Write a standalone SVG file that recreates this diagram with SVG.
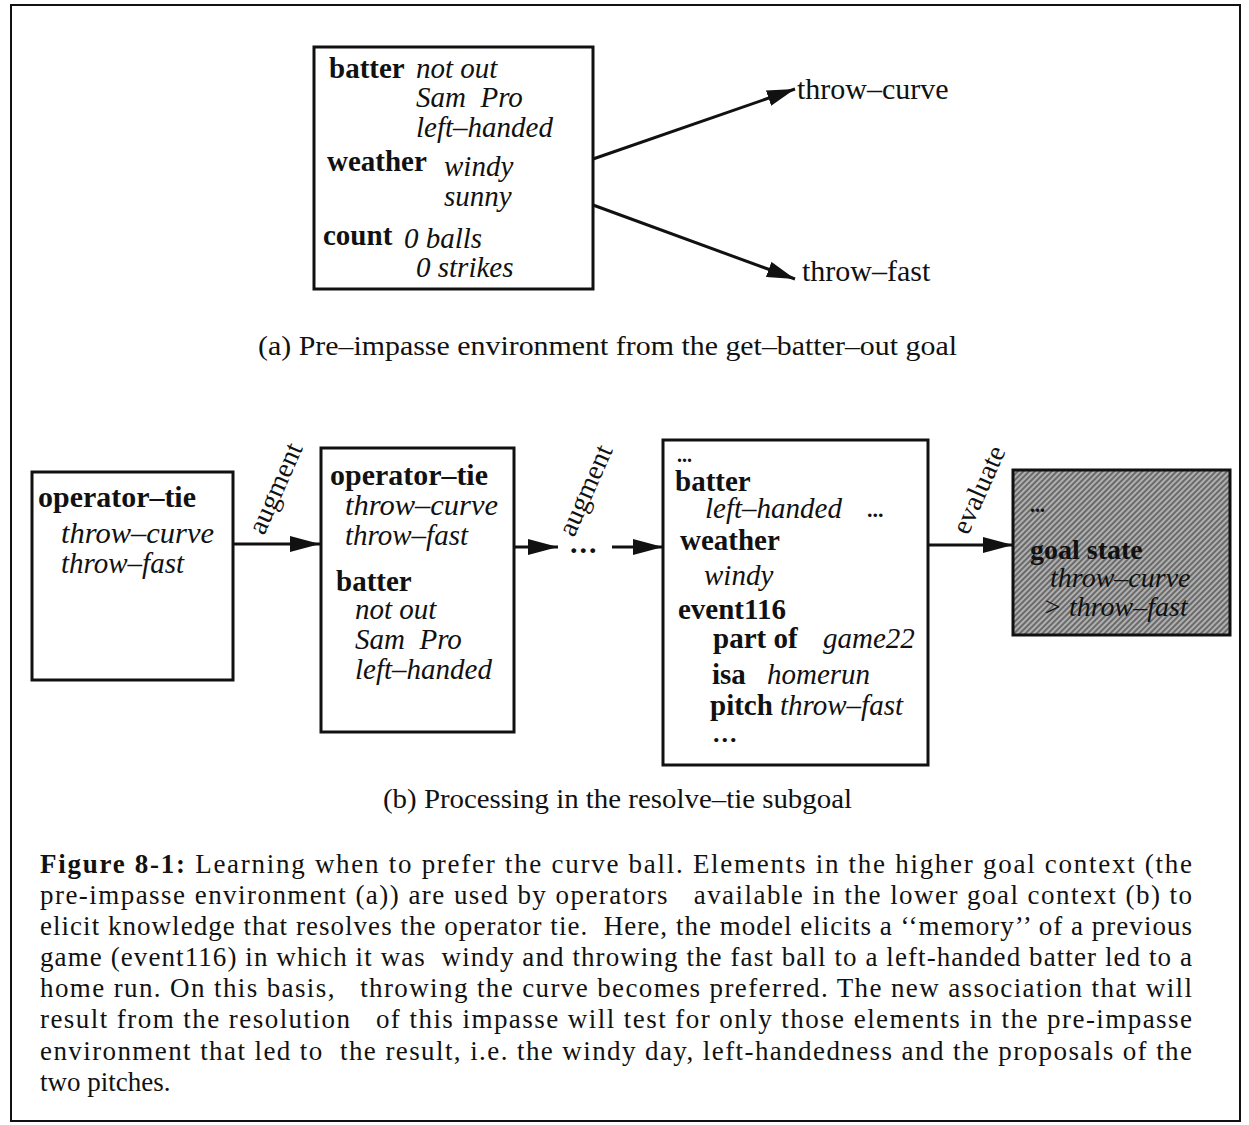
<svg xmlns="http://www.w3.org/2000/svg" width="1249" height="1125" viewBox="0 0 1249 1125">
<style>
text{font-family:"Liberation Serif","Times New Roman",serif;fill:#111}
.b{font-weight:bold}
.i{font-style:italic}
.t{font-size:29px}
.n{font-size:29px}
.g{font-size:28px}
.lab{font-size:30px}
.sub{font-size:28px}
.cap{font-size:27px}
.rot{font-size:28px}
.box{fill:#fff;stroke:#111;stroke-width:3}
.edge{stroke:#111;stroke-width:3;fill:none}
</style>
<defs>
<marker id="ah" markerUnits="userSpaceOnUse" markerWidth="31" markerHeight="16" refX="30" refY="8" orient="auto">
<path d="M0,0 L30,8 L0,16 z" fill="#111"/>
</marker>
<marker id="ahs" markerUnits="userSpaceOnUse" markerWidth="29" markerHeight="16" refX="28" refY="8" orient="auto">
<path d="M0,0 L28,8 L0,16 z" fill="#111"/>
</marker>
<pattern id="hatch" patternUnits="userSpaceOnUse" width="4" height="4" patternTransform="rotate(45)">
<rect width="4" height="4" fill="#b0b0b0"/>
<rect width="2" height="4" fill="#6a6a6a"/>
</pattern>
</defs>
<rect width="1249" height="1125" fill="#fff"/>
<rect x="11" y="5" width="1229" height="1116" fill="none" stroke="#111" stroke-width="2"/>

<g id="connectors">
<line class="edge" x1="593" y1="159" x2="795" y2="89" marker-end="url(#ahs)"/>
<line class="edge" x1="593" y1="205" x2="795" y2="279" marker-end="url(#ahs)"/>
<line class="edge" x1="233" y1="544" x2="320" y2="544" marker-end="url(#ah)"/>
<line class="edge" x1="514" y1="547" x2="558" y2="547" marker-end="url(#ah)"/>
<line class="edge" x1="612" y1="547" x2="663" y2="547" marker-end="url(#ah)"/>
<line class="edge" x1="928" y1="545" x2="1013" y2="545" marker-end="url(#ah)"/>
<text class="b" x="570" y="553" style="font-size:30px;letter-spacing:2px">...</text>
<text class="rot" transform="translate(264,536) rotate(-66)">augment</text>
<text class="rot" transform="translate(574,538) rotate(-66)">augment</text>
<text class="rot" transform="translate(968,536) rotate(-66)">evaluate</text>
</g>

<g id="pre-impasse">
<rect class="box" x="314" y="47" width="279" height="242"/>
<text class="t b" x="329" y="78">batter</text>
<text class="t i" x="416" y="78">not out</text>
<text class="t i" x="416" y="107" xml:space="preserve">Sam  Pro</text>
<text class="t i" x="416" y="137">left–handed</text>
<text class="t b" x="327" y="171">weather</text>
<text class="t i" x="444" y="176">windy</text>
<text class="t i" x="444" y="206">sunny</text>
<text class="t b" x="323" y="245">count</text>
<text class="t i" x="404" y="248">0 balls</text>
<text class="t i" x="416" y="277">0 strikes</text>
</g>

<g id="throw-curve">
<text class="lab" x="797" y="99">throw–curve</text>
</g>
<g id="throw-fast">
<text class="lab" x="802" y="281">throw–fast</text>
</g>

<text class="sub" x="258" y="355" textLength="699" lengthAdjust="spacingAndGlyphs">(a) Pre–impasse environment from the get–batter–out goal</text>

<g id="operator-tie">
<rect class="box" x="32" y="472" width="201" height="208"/>
<text class="n b" x="38" y="507" textLength="158" lengthAdjust="spacingAndGlyphs">operator–tie</text>
<text class="n i" x="61" y="543" textLength="153" lengthAdjust="spacingAndGlyphs">throw–curve</text>
<text class="n i" x="61" y="573">throw–fast</text>
</g>

<g id="augmented1">
<rect class="box" x="321" y="448" width="193" height="284"/>
<text class="n b" x="330" y="485" textLength="158" lengthAdjust="spacingAndGlyphs">operator–tie</text>
<text class="n i" x="345" y="515" textLength="153" lengthAdjust="spacingAndGlyphs">throw–curve</text>
<text class="n i" x="345" y="545">throw–fast</text>
<text class="n b" x="336" y="591">batter</text>
<text class="n i" x="355" y="619">not out</text>
<text class="n i" x="355" y="649" xml:space="preserve">Sam  Pro</text>
<text class="n i" x="355" y="679">left–handed</text>
</g>

<g id="augmented2">
<rect class="box" x="663" y="440" width="265" height="325"/>
<text class="b" x="677" y="462" style="font-size:20px">...</text>
<text class="n b" x="675" y="491">batter</text>
<text class="n i" x="705" y="518">left–handed</text>
<text class="b" x="867" y="517" style="font-size:22px">...</text>
<text class="n b" x="680" y="550">weather</text>
<text class="n i" x="704" y="585">windy</text>
<text class="n b" x="678" y="619">event116</text>
<text class="n b" x="713" y="648">part of</text>
<text class="n i" x="823" y="648">game22</text>
<text class="n b" x="712" y="684">isa</text>
<text class="n i" x="767" y="684">homerun</text>
<text class="n b" x="710" y="715">pitch</text>
<text class="n i" x="780" y="715">throw–fast</text>
<text class="b" x="713" y="742" style="font-size:26px;letter-spacing:2px">...</text>
</g>

<g id="goal-state">
<rect x="1013" y="470" width="217" height="165" fill="url(#hatch)" stroke="#111" stroke-width="3"/>
<text class="b" x="1030" y="512" style="font-size:20px">...</text>
<text class="g b" x="1030" y="559">goal state</text>
<text class="g i" x="1050" y="587">throw–curve</text>
<text class="g i" x="1043" y="616">&gt; throw–fast</text>
</g>

<text class="sub" x="383" y="808" textLength="469" lengthAdjust="spacingAndGlyphs">(b) Processing in the resolve–tie subgoal</text>

<g id="caption">
<text class="cap" x="40" y="873" textLength="1152" lengthAdjust="spacing"><tspan class="b">Figure 8-1:</tspan> Learning when to prefer the curve ball.  Elements in the higher goal context (the</text>
<text class="cap" x="40" y="904" textLength="1152" lengthAdjust="spacing" xml:space="preserve">pre-impasse environment (a)) are used by operators   available in the lower goal context (b) to</text>
<text class="cap" x="40" y="935" textLength="1152" lengthAdjust="spacing" xml:space="preserve">elicit knowledge that resolves the operator tie.  Here, the model elicits a ‘‘memory’’ of a previous</text>
<text class="cap" x="40" y="966" textLength="1152" lengthAdjust="spacing" xml:space="preserve">game (event116) in which it was  windy and throwing the fast ball to a left-handed batter led to a</text>
<text class="cap" x="40" y="997" textLength="1152" lengthAdjust="spacing" xml:space="preserve">home run. On this basis,   throwing the curve becomes preferred. The new association that will</text>
<text class="cap" x="40" y="1028" textLength="1152" lengthAdjust="spacing" xml:space="preserve">result from the resolution   of this impasse will test for only those elements in the pre-impasse</text>
<text class="cap" x="40" y="1060" textLength="1152" lengthAdjust="spacing" xml:space="preserve">environment that led to  the result, i.e. the windy day, left-handedness and the proposals of the</text>
<text class="cap" x="40" y="1091">two pitches.</text>
</g>
</svg>
